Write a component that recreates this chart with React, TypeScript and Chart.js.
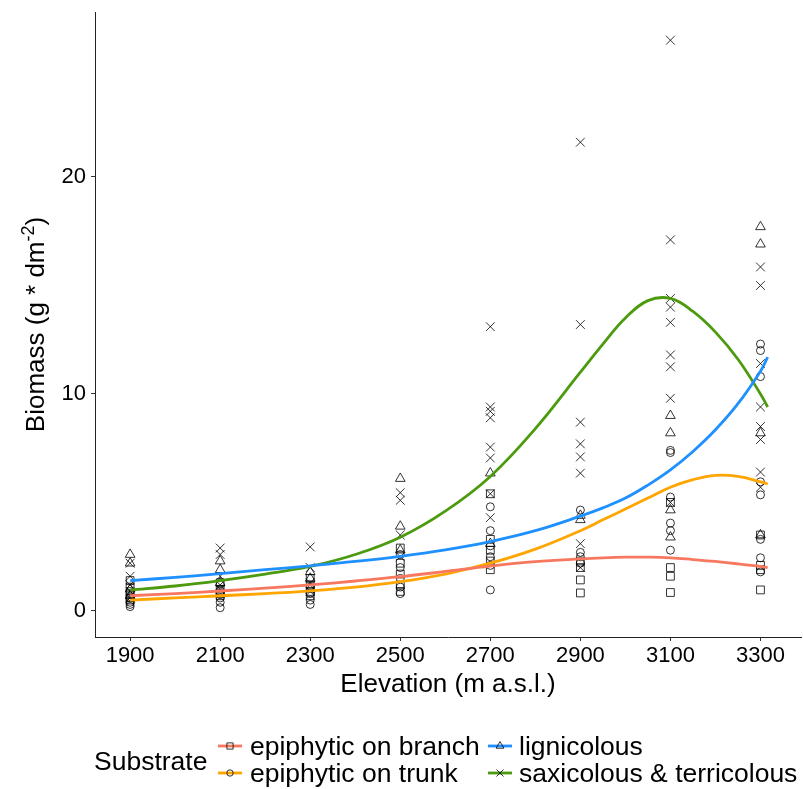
import React, { useEffect, useRef } from "react";
import { Chart, registerables } from "chart.js";

Chart.register(...registerables);

// ---------- data ----------
const elevations = [1900, 2100, 2300, 2500, 2700, 2900, 3100, 3300];

const substrates = [
  "epiphytic on branch",
  "epiphytic on trunk",
  "lignicolous",
  "saxicolous & terricolous",
];

// observed biomass per elevation (one inner list per elevation)
const branchValues = [
  [1.4, 1.1, 0.8, 0.6, 0.5],
  [1.3, 1.0, 0.8, 0.7],
  [1.5, 1.2, 0.9, 0.7],
  [2.9, 2.2, 1.7, 1.2, 0.9],
  [5.4, 3.3, 2.8, 2.3, 1.9],
  [2.3, 2.0, 1.43, 0.83],
  [5.0, 2.0, 1.6, 0.85],
  [3.5, 2.1, 1.9, 0.97],
];
const trunkValues = [
  [0.9, 0.6, 0.4, 0.3, 0.2],
  [0.9, 0.6, 0.4, 0.15],
  [1.1, 0.8, 0.5, 0.3],
  [2.6, 2.0, 1.5, 1.1, 0.8],
  [4.8, 3.7, 3.0, 2.5, 2.1, 0.97],
  [4.65, 2.7, 2.5, 2.2],
  [7.4, 7.3, 5.25, 4.05, 3.7, 2.8],
  [12.3, 12.0, 10.8, 5.95, 5.35, 3.3, 2.45, 1.8],
];
const lignicolousValues = [
  [2.6, 2.2, 1.0, 0.7],
  [2.3, 1.9, 1.3],
  [1.8, 1.5, 1.0],
  [6.1, 3.9, 2.8],
  [6.35, 3.1],
  [4.4, 4.2],
  [9.0, 8.2, 4.65, 3.4],
  [17.7, 16.9, 8.2, 3.5],
];
const saxicolousValues = [
  [2.2, 1.6, 1.2, 0.9, 0.6],
  [2.9, 2.6, 1.6, 1.2, 1.0],
  [2.95, 2.0, 1.3, 0.9],
  [5.45, 5.1, 3.5, 2.5],
  [13.1, 9.4, 9.2, 8.9, 7.55, 7.05, 5.4, 4.3],
  [21.6, 13.2, 8.7, 7.7, 7.1, 6.35, 3.1, 2.0],
  [26.3, 17.1, 14.4, 14.0, 13.3, 11.8, 11.25, 9.8, 5.0],
  [15.85, 15.0, 11.4, 9.4, 8.5, 7.9, 6.4, 5.7],
];

// smoothed (loess) curves
const curveElevations = [1900, 2000, 2100, 2200, 2300, 2400, 2500, 2600, 2700, 2800, 2900, 2950, 3000, 3050, 3100, 3150, 3200, 3250, 3300, 3316];
const branchCurve = [0.7, 0.8, 0.92, 1.05, 1.2, 1.38, 1.58, 1.82, 2.07, 2.27, 2.4, 2.45, 2.48, 2.48, 2.45, 2.37, 2.28, 2.17, 2.05, 2.0];
const trunkCurve = [0.5, 0.6, 0.7, 0.8, 0.93, 1.1, 1.35, 1.7, 2.2, 2.85, 3.7, 4.2, 4.7, 5.2, 5.7, 6.05, 6.25, 6.2, 5.95, 5.85];
const lignicolousCurve = [1.4, 1.55, 1.72, 1.9, 2.08, 2.28, 2.52, 2.82, 3.2, 3.7, 4.37, 4.75, 5.2, 5.8, 6.5, 7.35, 8.35, 9.55, 11.05, 11.7];
const saxicolousCurve = [0.97, 1.15, 1.4, 1.7, 2.05, 2.6, 3.4, 4.6, 6.2, 8.4, 11.0, 12.3, 13.5, 14.3, 14.4, 13.8, 12.85, 11.6, 10.0, 9.4];

const xTicks = [1900, 2100, 2300, 2500, 2700, 2900, 3100, 3300];
const yTicks = [0, 10, 20];

const xTitle = "Elevation (m a.s.l.)";
const yTitleMain = "Biomass (g * dm";
const yTitleSup = "-2";
const yTitleEnd = ")";
const legendTitle = "Substrate";

// ---------- styles ----------
const FONT = '"Liberation Sans", Arial, Helvetica, sans-serif';
const lineColors = ["#F8785F", "#FFA500", "#1E90FF", "#4C9A0E"];
const pointStyles = ["rect", "circle", "triangle", "crossRot"];
const pointRadii = [5.5, 4, 5.6, 6.2];

function drawMarker(ctx: CanvasRenderingContext2D, style: string, x: number, y: number, r: number) {
  ctx.beginPath();
  if (style === "rect") {
    const s = r * Math.SQRT1_2;
    ctx.rect(x - s, y - s, 2 * s, 2 * s);
  } else if (style === "circle") {
    ctx.arc(x, y, r, 0, Math.PI * 2);
  } else if (style === "triangle") {
    let rad = 0;
    ctx.moveTo(x + Math.sin(rad) * r, y - Math.cos(rad) * r);
    rad += (2 * Math.PI) / 3;
    ctx.lineTo(x + Math.sin(rad) * r, y - Math.cos(rad) * r);
    rad += (2 * Math.PI) / 3;
    ctx.lineTo(x + Math.sin(rad) * r, y - Math.cos(rad) * r);
    ctx.closePath();
  } else {
    const o = r * Math.SQRT1_2;
    ctx.moveTo(x - o, y - o);
    ctx.lineTo(x + o, y + o);
    ctx.moveTo(x - o, y + o);
    ctx.lineTo(x + o, y - o);
  }
  ctx.stroke();
}

const decorPlugin = {
  id: "decor",
  afterDraw(chart: any) {
    const ctx: CanvasRenderingContext2D = chart.ctx;
    const area = chart.chartArea;
    ctx.save();
    ctx.fillStyle = "#000";

    // x axis title
    ctx.font = `26px ${FONT}`;
    ctx.textAlign = "center";
    ctx.textBaseline = "alphabetic";
    ctx.fillText(xTitle, (area.left + area.right) / 2, 692);

    // y axis title with superscript
    ctx.save();
    ctx.translate(44, (area.top + area.bottom) / 2);
    ctx.rotate(-Math.PI / 2);
    ctx.textAlign = "left";
    ctx.font = `26px ${FONT}`;
    const w1 = ctx.measureText(yTitleMain).width;
    const w3 = ctx.measureText(yTitleEnd).width;
    ctx.font = `18px ${FONT}`;
    const w2 = ctx.measureText(yTitleSup).width;
    let sx = -(w1 + w2 + w3) / 2;
    ctx.font = `26px ${FONT}`;
    ctx.fillText(yTitleMain, sx, 0);
    sx += w1;
    ctx.font = `18px ${FONT}`;
    ctx.fillText(yTitleSup, sx, -10);
    sx += w2;
    ctx.font = `26px ${FONT}`;
    ctx.fillText(yTitleEnd, sx, 0);
    ctx.restore();

    // legend
    ctx.font = `26.5px ${FONT}`;
    ctx.textAlign = "left";
    ctx.textBaseline = "alphabetic";
    ctx.fillText(legendTitle, 94, 770);
    const cols = [
      { keyX: 218, textX: 250 },
      { keyX: 488, textX: 519 },
    ];
    const rows = [
      { y: 746, base: 755 },
      { y: 773, base: 782 },
    ];
    substrates.forEach((name, i) => {
      const c = cols[Math.floor(i / 2)];
      const r = rows[i % 2];
      ctx.strokeStyle = lineColors[i];
      ctx.lineWidth = 2.8;
      ctx.beginPath();
      ctx.moveTo(c.keyX, r.y);
      ctx.lineTo(c.keyX + 24, r.y);
      ctx.stroke();
      ctx.strokeStyle = "#000";
      ctx.lineWidth = 0.8;
      drawMarker(ctx, pointStyles[i], c.keyX + 12, r.y, pointRadii[i] * 0.8);
      ctx.fillStyle = "#000";
      ctx.fillText(name, c.textX, r.base);
    });
    ctx.restore();
  },
};

function zeroPadding(s: any) {
  s.paddingTop = 0;
  s.paddingBottom = 0;
  s.paddingLeft = 0;
  s.paddingRight = 0;
}

export default function App() {
  const ref = useRef<HTMLCanvasElement>(null);

  useEffect(() => {
    document.body.style.margin = "0";
    const canvas = ref.current;
    if (!canvas) return;

    const seriesValues = [branchValues, trunkValues, lignicolousValues, saxicolousValues];
    const curveValues = [branchCurve, trunkCurve, lignicolousCurve, saxicolousCurve];

    const pointSets = substrates.map((name, i) => ({
      label: name,
      data: elevations.flatMap((e, k) => seriesValues[i][k].map((v) => ({ x: e, y: v }))),
      pointStyle: pointStyles[i],
      pointRadius: pointRadii[i],
      pointHoverRadius: pointRadii[i],
      borderColor: "#000",
      backgroundColor: "rgba(0,0,0,0)",
      pointBorderColor: "#000",
      pointBackgroundColor: "rgba(0,0,0,0)",
      pointBorderWidth: 0.8,
      showLine: false,
      order: 2,
    }));

    const curveSets = substrates.map((name, i) => ({
      label: name + " (smooth)",
      data: curveElevations.map((e, k) => ({ x: e, y: curveValues[i][k] })),
      showLine: true,
      borderColor: lineColors[i],
      backgroundColor: lineColors[i],
      borderWidth: 2.8,
      pointRadius: 0,
      pointHoverRadius: 0,
      tension: 0.4,
      fill: false,
      order: 1,
    }));

    const chart = new Chart(canvas, {
      type: "scatter",
      data: { datasets: [...curveSets, ...pointSets] as any },
      options: {
        animation: false,
        responsive: false,
        devicePixelRatio: 1,
        layout: { autoPadding: false, padding: { left: 0, right: 2, top: 12, bottom: 82 } },
        plugins: {
          legend: { display: false },
          tooltip: { enabled: false },
          title: { display: false },
        },
        scales: {
          x: {
            type: "linear",
            min: 1822,
            max: 3390,
            afterFit: (s: any) => {
              s.height = 70;
              zeroPadding(s);
            },
            afterBuildTicks: (s: any) => {
              s.ticks = xTicks.map((v) => ({ value: v }));
            },
            ticks: {
              color: "#000",
              font: { family: FONT, size: 22, lineHeight: 1.2 },
              padding: 2,
              maxRotation: 0,
              autoSkip: false,
              callback: (v: any) => String(v),
            },
            grid: { drawOnChartArea: false, drawTicks: true, tickLength: 4, color: "#333", lineWidth: 1 },
            border: { display: true, color: "#222", width: 1 },
            title: { display: false },
          },
          y: {
            type: "linear",
            min: -1.2,
            max: 27.6,
            afterFit: (s: any) => {
              s.width = 95;
              zeroPadding(s);
            },
            afterBuildTicks: (s: any) => {
              s.ticks = yTicks.map((v) => ({ value: v }));
            },
            ticks: {
              color: "#000",
              font: { family: FONT, size: 22, lineHeight: 1.2 },
              padding: 5,
              callback: (v: any) => String(v),
            },
            grid: { drawOnChartArea: false, drawTicks: true, tickLength: 4, color: "#333", lineWidth: 1 },
            border: { display: true, color: "#222", width: 1 },
            title: { display: false },
          },
        },
      } as any,
      plugins: [decorPlugin],
    });

    return () => chart.destroy();
  }, []);

  return (
    <div style={{ width: 803, height: 789, position: "relative", background: "#fff" }}>
      <canvas ref={ref} width={803} height={789} style={{ display: "block" }} />
    </div>
  );
}
